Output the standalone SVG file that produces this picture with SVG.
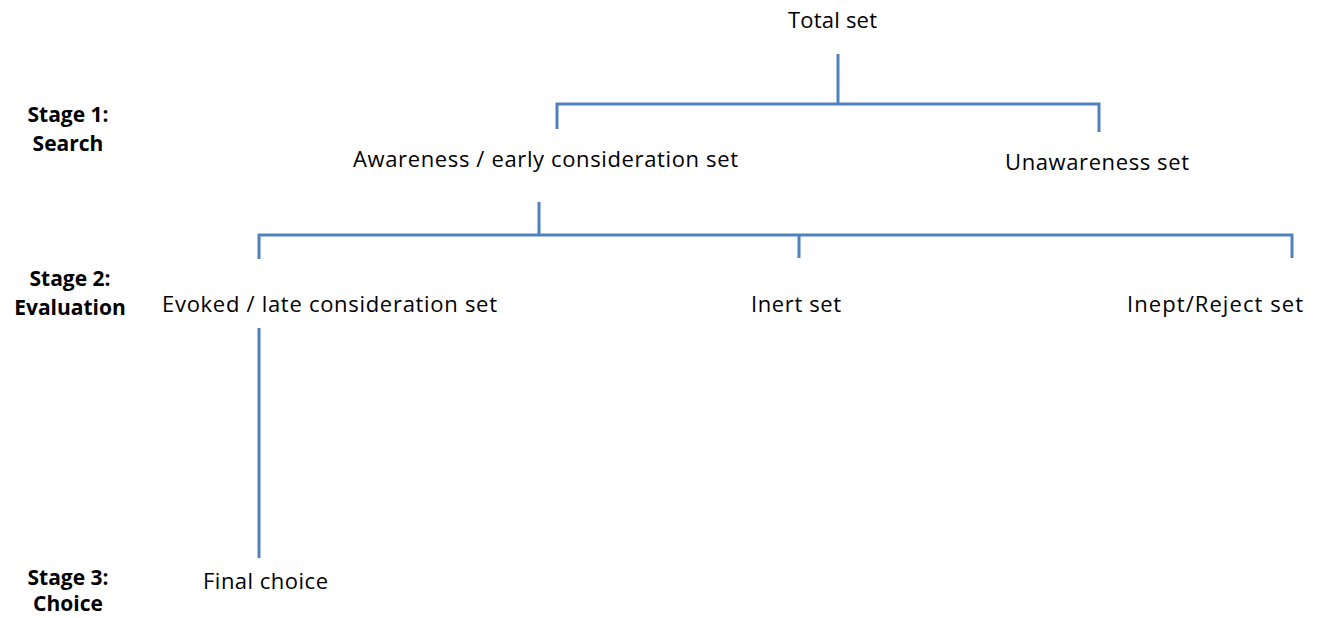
<svg xmlns="http://www.w3.org/2000/svg" width="1319" height="618" viewBox="0 0 1319 618">
<style>
.t{font-family:"Open Sans","Liberation Sans",sans-serif;font-size:22px;fill:#000}
.s{font-family:"Open Sans","Liberation Sans",sans-serif;font-size:21px;font-weight:bold;fill:#000;text-anchor:middle}
.c{fill:none;stroke:#4F81BD;stroke-width:3}
</style>
<rect width="1319" height="618" fill="#fff"/>
<g id="connectors">
<path class="c" d="M838,54 V104"/>
<path class="c" d="M557,129 V104 H1099 V132"/>
<path class="c" d="M539,202 V235"/>
<path class="c" d="M259,259 V235 H1292 V258"/>
<path class="c" d="M799,235 V258"/>
<path class="c" d="M259,328 V558"/>
</g>
<g id="stage1"><text class="s" x="68" y="122">Stage 1:</text><text class="s" x="68" y="151">Search</text></g>
<g id="stage2"><text class="s" x="70" y="286">Stage 2:</text><text class="s" x="70" y="315">Evaluation</text></g>
<g id="stage3"><text class="s" x="68" y="585">Stage 3:</text><text class="s" x="68" y="611">Choice</text></g>
<g id="total"><text class="t" x="788" y="28" textLength="89">Total set</text></g>
<g id="awareness"><text class="t" x="353" y="167" textLength="385">Awareness / early consideration set</text></g>
<g id="unawareness"><text class="t" x="1005" y="170" textLength="184">Unawareness set</text></g>
<g id="evoked"><text class="t" x="162" y="312" textLength="335">Evoked / late consideration set</text></g>
<g id="inert"><text class="t" x="751" y="312" textLength="90">Inert set</text></g>
<g id="inept"><text class="t" x="1127" y="312" textLength="176">Inept/Reject set</text></g>
<g id="final"><text class="t" x="203" y="589" textLength="125">Final choice</text></g>
</svg>
